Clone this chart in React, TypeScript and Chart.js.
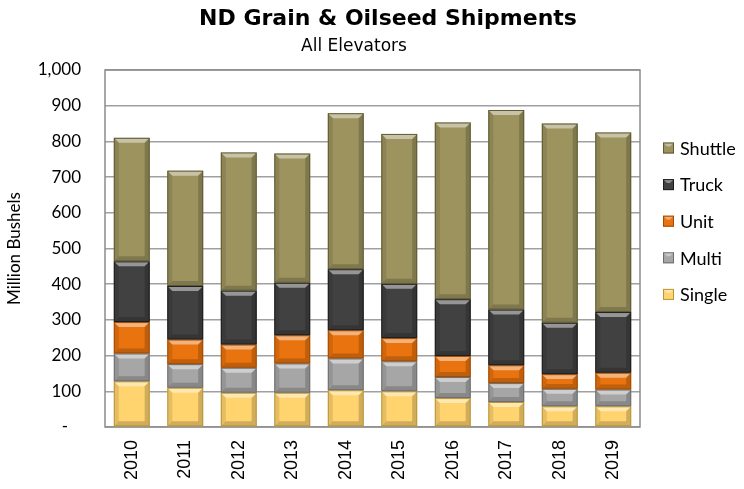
import React, { useEffect, useRef } from 'react';
import { Chart, registerables } from 'chart.js';

Chart.register(...registerables);

const years = ['2010', '2011', '2012', '2013', '2014', '2015', '2016', '2017', '2018', '2019'];
const single = [128, 110, 96, 96, 103, 100, 81, 70, 58, 58];
const multi = [78, 66, 70, 82, 89, 84, 59, 53, 49, 47];
const unit = [88, 69, 65, 79, 79, 65, 59, 50, 41, 47];
const truck = [170, 150, 151, 147, 171, 152, 159, 156, 144, 170];
const shuttle = [346, 323, 387, 362, 437, 420, 495, 559, 558, 503];

const titleText = 'ND Grain & Oilseed Shipments';
const subtitleText = 'All Elevators';
const yTitle = 'Million Bushels';

const seriesNames = ['Single', 'Multi', 'Unit', 'Truck', 'Shuttle'];
const seriesData = [single, multi, unit, truck, shuttle];
const fills = ['#ffd46f', '#a6a6a6', '#e9730e', '#414141', '#9c935f'];
const borders = ['#b8963c', '#6e6e6e', '#a04c05', '#1e1e1e', '#5f5a32'];

const bevelPlugin = {
  id: 'bevel',
  afterDatasetsDraw(chart: any) {
    const ctx = chart.ctx;
    chart.data.datasets.forEach((ds: any, di: number) => {
      const meta = chart.getDatasetMeta(di);
      meta.data.forEach((el: any) => {
        const p = el.getProps(['x', 'y', 'base', 'width'], true);
        const l = p.x - p.width / 2;
        const r = p.x + p.width / 2;
        const t = Math.min(p.y, p.base);
        const b = Math.max(p.y, p.base);
        const h = b - t;
        const bv = Math.min(5, h / 3);
        ctx.save();
        const poly = (pts: number[][], col: string) => {
          ctx.beginPath();
          ctx.moveTo(pts[0][0], pts[0][1]);
          for (let i = 1; i < pts.length; i++) ctx.lineTo(pts[i][0], pts[i][1]);
          ctx.closePath();
          ctx.fillStyle = col;
          ctx.fill();
        };
        poly([[l, t], [r, t], [r - bv, t + bv], [l + bv, t + bv]], 'rgba(255,255,255,0.45)');
        poly([[l, b], [r, b], [r - bv, b - bv], [l + bv, b - bv]], 'rgba(0,0,0,0.18)');
        poly([[l, t], [l + bv, t + bv], [l + bv, b - bv], [l, b]], 'rgba(0,0,0,0.10)');
        poly([[r, t], [r - bv, t + bv], [r - bv, b - bv], [r, b]], 'rgba(0,0,0,0.18)');
        ctx.strokeStyle = borders[di];
        ctx.lineWidth = 1;
        ctx.strokeRect(l + 0.5, t + 0.5, p.width - 1, h - 1);
        ctx.restore();
      });
    });
  },
};

const framePlugin = {
  id: 'frame',
  beforeDatasetsDraw(chart: any) {
    const { ctx, chartArea } = chart;
    ctx.save();
    ctx.strokeStyle = '#8c8c8c';
    ctx.lineWidth = 1.5;
    ctx.strokeRect(chartArea.left, chartArea.top, chartArea.right - chartArea.left, chartArea.bottom - chartArea.top);
    ctx.restore();
  },
};

const textPlugin = {
  id: 'texts',
  afterDraw(chart: any) {
    const { ctx } = chart;
    ctx.save();
    ctx.fillStyle = '#000';
    ctx.textAlign = 'center';
    ctx.textBaseline = 'middle';
    ctx.font = 'bold 22px "DejaVu Sans"';
    ctx.fillText(titleText, 388, 19);
    ctx.font = '17px "DejaVu Sans"';
    ctx.fillText(subtitleText, 354, 47);
    // legend
    ctx.textAlign = 'left';
    ctx.font = '18px Lato';
    const n = chart.data.datasets.length;
    for (let k = 0; k < n; k++) {
      const di = n - 1 - k;
      const ds = chart.data.datasets[di];
      const cy = 148 + k * 36.6;
      ctx.fillStyle = fills[di];
      ctx.fillRect(663, cy - 5.5, 11, 11);
      ctx.fillStyle = 'rgba(255,255,255,0.4)';
      ctx.beginPath();
      ctx.moveTo(663, cy - 5.5);
      ctx.lineTo(674, cy - 5.5);
      ctx.lineTo(670, cy - 1.5);
      ctx.lineTo(667, cy - 1.5);
      ctx.closePath();
      ctx.fill();
      ctx.strokeStyle = borders[di];
      ctx.lineWidth = 1;
      ctx.strokeRect(663.5, cy - 5, 10, 10);
      ctx.fillStyle = '#000';
      ctx.fillText(ds.label, 680, cy + 1);
    }
    ctx.restore();
  },
};

export default function App() {
  const ref = useRef<HTMLCanvasElement>(null);
  useEffect(() => {
    const chart = new Chart(ref.current!, {
      type: 'bar',
      data: {
        labels: years,
        datasets: seriesNames.map((name, i) => ({
          label: name,
          data: seriesData[i],
          backgroundColor: fills[i],
          borderWidth: 0,
          barPercentage: 0.67,
          categoryPercentage: 1,
        })),
      },
      options: {
        animation: false,
        responsive: true,
        maintainAspectRatio: false,
        layout: { padding: { top: 70, right: 104, left: 0, bottom: 0 } },
        plugins: {
          legend: { display: false },
          title: { display: false },
          tooltip: { enabled: false },
        },
        scales: {
          x: {
            stacked: true,
            grid: { display: false, drawTicks: false },
            border: { display: false },
            ticks: {
              maxRotation: 90,
              minRotation: 90,
              padding: 13,
              color: '#000',
              font: { family: '"Liberation Sans"', size: 18 },
            },
            afterFit(scale: any) {
              scale.height = 62;
            },
          },
          y: {
            stacked: true,
            min: 0,
            max: 1000,
            border: { display: false },
            grid: { color: '#a0a0a0', lineWidth: 1.5, drawTicks: false },
            ticks: {
              stepSize: 100,
              padding: 24,
              color: '#000',
              font: { family: 'Lato', size: 17 },
              callback: (v: any) => (Number(v) === 0 ? '-   ' : Number(v).toLocaleString('en-US')),
            },
            title: {
              display: true,
              text: yTitle,
              color: '#000',
              font: { family: 'Lato', size: 17 },
              padding: { top: 4, bottom: 0 },
            },
            afterFit(scale: any) {
              scale.width = 105;
            },
          },
        },
      },
      plugins: [framePlugin, bevelPlugin, textPlugin],
    });
    return () => chart.destroy();
  }, []);
  return (
    <div style={{ position: 'fixed', left: 0, top: 0, width: 744, height: 489, background: '#fff' }}>
      <canvas ref={ref} />
    </div>
  );
}
